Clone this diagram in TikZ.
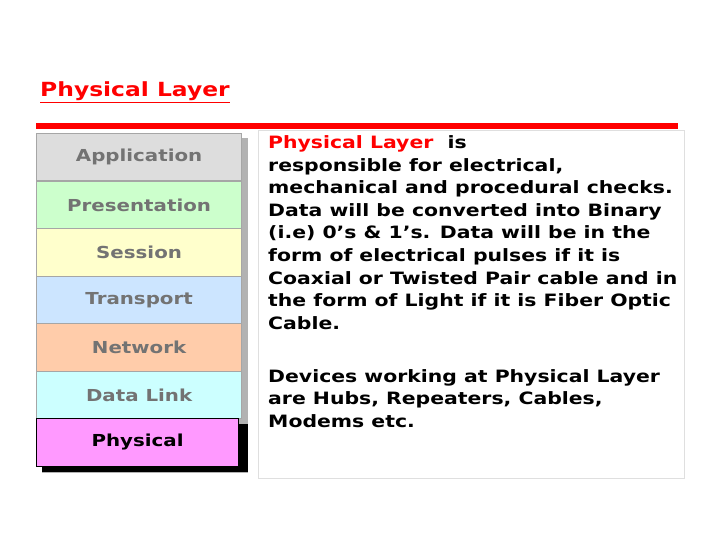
\documentclass[tikz,border=0pt]{standalone}
\usepackage{fontspec}
\setmainfont{DejaVu Sans}[FakeStretch=1.2]
\definecolor{capp}{HTML}{DDDDDD}
\definecolor{cpres}{HTML}{CCFFCC}
\definecolor{csess}{HTML}{FFFFCC}
\definecolor{ctrans}{HTML}{CCE5FF}
\definecolor{cnet}{HTML}{FFCCAA}
\definecolor{cdl}{HTML}{CCFFFF}
\definecolor{cphy}{HTML}{FF99FF}
\begin{document}
\begin{tikzpicture}[x=1pt,y=-1pt,
  layer/.style={draw=gray!70,line width=1.2pt,minimum width=205pt,minimum height=47.5pt,anchor=north west,inner sep=0pt,font=\bfseries\fontsize{16.5}{18}\selectfont,text=black!55},
  txt/.style={anchor=base west,inner sep=0pt,font=\bfseries\fontsize{17}{19}\selectfont}]
\useasboundingbox[fill=white] (0,0) rectangle (720,540);
\node[anchor=base west,inner sep=0pt,text=red,font=\bfseries\fontsize{19.5}{21}\selectfont] (title) at (40,97) {\underline{Physical Layer}};
\fill[red] (36,123) rectangle (678,129);
\draw[gray!25] (258,130) rectangle (684,478);
\fill[gray!60] (42,138) rectangle (248,473);
\node[layer,fill=capp] (app) at (36,133) {Application};
\node[layer,fill=cpres] (pres) at (36,180.5) {Presentation};
\node[layer,fill=csess] (sess) at (36,228) {Session};
\node[layer,fill=ctrans] (trans) at (36,275.5) {Transport};
\node[layer,fill=cnet] (net) at (36,323) {Network};
\node[layer,fill=cdl] (dl) at (36,370.5) {Data Link};
\fill[black] (42,424) rectangle (248,472);
\node[layer,fill=cphy,draw=black,text=black,minimum width=202pt] (phy) at (36,418) {Physical};
\node[txt] (l1) at (268,149) {\textcolor{red}{Physical Layer}\ \ is};
\node[txt] (l2) at (268,171.5) {responsible for electrical,};
\node[txt] (l3) at (268,194) {mechanical and procedural checks.};
\node[txt] (l4) at (268,216.5) {Data will be converted into Binary};
\node[txt] (l5) at (268,239) {(i.e) 0’s \& 1’s. Data will be in the};
\node[txt] (l6) at (268,261.5) {form of electrical pulses if it is};
\node[txt] (l7) at (268,284) {Coaxial or Twisted Pair cable and in};
\node[txt] (l8) at (268,306.5) {the form of Light if it is Fiber Optic};
\node[txt] (l9) at (268,329) {Cable.};
\node[txt] (m1) at (268,382) {Devices working at Physical Layer};
\node[txt] (m2) at (268,404.5) {are Hubs, Repeaters, Cables,};
\node[txt] (m3) at (268,427) {Modems etc.};
\end{tikzpicture}
\end{document}
